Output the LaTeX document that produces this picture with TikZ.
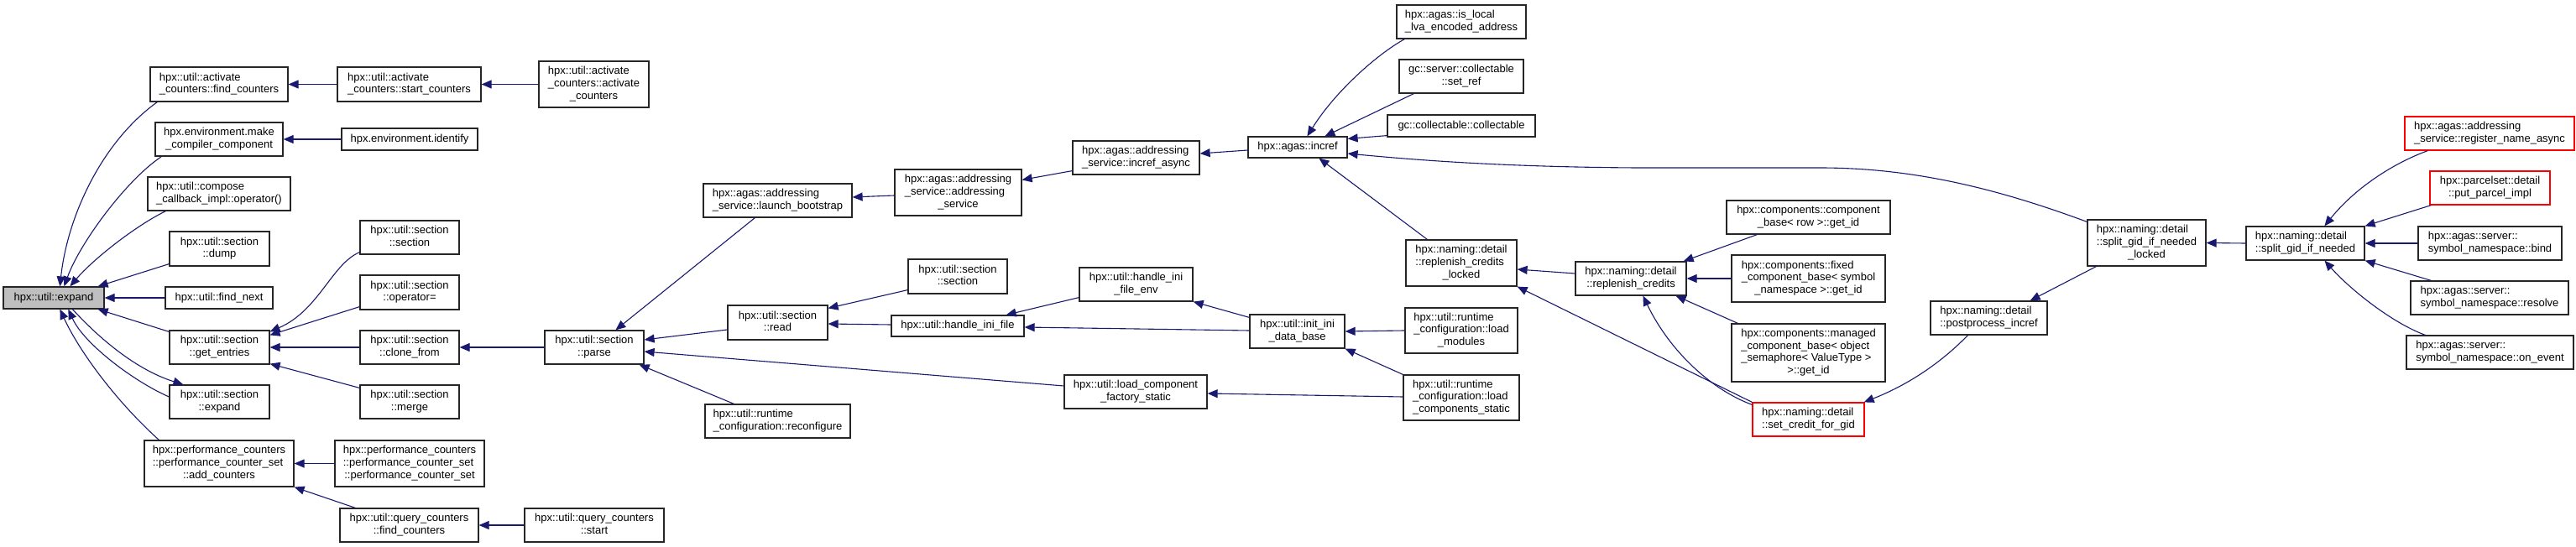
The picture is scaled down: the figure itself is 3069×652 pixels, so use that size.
\documentclass[tikz,border=0pt]{standalone}
\usepackage{fontspec}
\setmainfont{Liberation Sans}
\usetikzlibrary{arrows.meta,calc}
\definecolor{edgeblue}{RGB}{25,25,112}
\definecolor{nodegray}{RGB}{191,191,191}
\newcommand{\twol}[2]{\begin{tabular}{@{}l@{}}#1\\\multicolumn{1}{@{}c@{}}{#2}\end{tabular}}
\newcommand{\threel}[3]{\begin{tabular}{@{}l@{}}#1\\#2\\\multicolumn{1}{@{}c@{}}{#3}\end{tabular}}
\newcommand{\fourl}[4]{\begin{tabular}{@{}l@{}}#1\\#2\\#3\\\multicolumn{1}{@{}c@{}}{#4}\end{tabular}}
\newcommand{\bx}[7][]{\node[box,#1,minimum width={(#5-#3)*1pt},minimum height={(#6-#4)*1pt}] (#2) at ({(#3+#5)/2},{(#4+#6)/2}) {#7};}
\begin{document}
\begin{tikzpicture}[x=1pt,y=-1pt,
  box/.style={draw=black!85, line width=1.2pt, fill=white, inner sep=0pt, font=\fontsize{13}{14.7}\selectfont, text=black},
  e/.style={draw=edgeblue, line width=1.1pt, -{Triangle[length=12pt,width=10pt]}}]
\path[use as bounding box] (0,0) rectangle (3069,652);

\bx[fill=nodegray]{expand}{4}{342}{124}{368}{hpx::util::expand}
\bx{fc}{179}{80}{343}{121}{\twol{hpx::util::activate}{\_counters::find\_counters}}
\bx{mcc}{185}{146}{337}{186}{\twol{hpx.environment.make}{\_compiler\_component}}
\bx{comp}{176}{211}{346}{251}{\twol{hpx::util::compose}{\_callback\_impl::operator()}}
\bx{dump}{202}{276}{321}{317}{\twol{hpx::util::section}{::dump}}
\bx{fn}{197}{342}{325}{368}{hpx::util::find\_next}
\bx{ge}{202}{394}{321}{434}{\twol{hpx::util::section}{::get\_entries}}
\bx{sexp}{202}{459}{321}{499}{\twol{hpx::util::section}{::expand}}
\bx{add}{172}{525}{350}{580}{\threel{hpx::performance\_counters}{::performance\_counter\_set}{::add\_counters}}
\bx{sc}{402}{80}{573}{121}{\twol{hpx::util::activate}{\_counters::start\_counters}}
\bx{ident}{407}{153}{569}{179}{hpx.environment.identify}
\bx{ssec}{429}{263}{547}{303}{\twol{hpx::util::section}{::section}}
\bx{opeq}{429}{328}{547}{369}{\twol{hpx::util::section}{::operator=}}
\bx{clone}{429}{394}{547}{434}{\twol{hpx::util::section}{::clone\_from}}
\bx{merge}{429}{459}{547}{499}{\twol{hpx::util::section}{::merge}}
\bx{pcs}{399}{525}{577}{580}{\threel{hpx::performance\_counters}{::performance\_counter\_set}{::performance\_counter\_set}}
\bx{qf}{405}{606}{570}{646}{\twol{hpx::util::query\_counters}{::find\_counters}}
\bx{act}{642}{73}{773}{128}{\threel{hpx::util::activate}{\_counters::activate}{\_counters}}
\bx{parse}{649}{394}{767}{434}{\twol{hpx::util::section}{::parse}}
\bx{qs}{625}{606}{791}{646}{\twol{hpx::util::query\_counters}{::start}}
\bx{lb}{838}{219}{1015}{259}{\twol{hpx::agas::addressing}{\_service::launch\_bootstrap}}
\bx{read}{867}{364}{986}{405}{\twol{hpx::util::section}{::read}}
\bx{rec}{840}{482}{1013}{522}{\twol{hpx::util::runtime}{\_configuration::reconfigure}}
\bx{asvc}{1066}{202}{1217}{257}{\threel{hpx::agas::addressing}{\_service::addressing}{\_service}}
\bx{rsec}{1082}{309}{1200}{350}{\twol{hpx::util::section}{::section}}
\bx{hif}{1062}{376}{1220}{401}{hpx::util::handle\_ini\_file}
\bx{ia}{1278}{168}{1429}{208}{\twol{hpx::agas::addressing}{\_service::incref\_async}}
\bx{env}{1286}{319}{1421}{359}{\twol{hpx::util::handle\_ini}{\_file\_env}}
\bx{lcfs}{1268}{447}{1438}{487}{\twol{hpx::util::load\_component}{\_factory\_static}}
\bx{incref}{1487}{163}{1605}{188}{hpx::agas::incref}
\bx{init}{1489}{375}{1602}{415}{\twol{hpx::util::init\_ini}{\_data\_base}}
\bx{isl}{1664}{6}{1818}{46}{\twol{hpx::agas::is\_local}{\_lva\_encoded\_address}}
\bx{setref}{1667}{71}{1815}{111}{\twol{gc::server::collectable}{::set\_ref}}
\bx{gcc}{1653}{137}{1829}{163}{gc::collectable::collectable}
\bx{rcl}{1675}{286}{1807}{341}{\threel{hpx::naming::detail}{::replenish\_credits}{\_locked}}
\bx{lm}{1674}{367}{1808}{421}{\threel{hpx::util::runtime}{\_configuration::load}{\_modules}}
\bx{lc}{1672}{447}{1810}{501}{\threel{hpx::util::runtime}{\_configuration::load}{\_components\_static}}
\bx{rc}{1877}{312}{2009}{352}{\twol{hpx::naming::detail}{::replenish\_credits}}
\bx{cb}{2057}{239}{2252}{279}{\twol{hpx::components::component}{\_base< row >::get\_id}}
\bx{fixed}{2063}{304}{2246}{360}{\threel{hpx::components::fixed}{\_component\_base< symbol}{\_namespace >::get\_id}}
\bx{man}{2063}{386}{2246}{455}{\fourl{hpx::components::managed}{\_component\_base< object}{\_semaphore< ValueType >}{>::get\_id}}
\bx[draw=red]{scg}{2088}{480}{2221}{520}{\twol{hpx::naming::detail}{::set\_credit\_for\_gid}}
\bx{pp}{2300}{359}{2439}{399}{\twol{hpx::naming::detail}{::postprocess\_incref}}
\bx{sl}{2487}{262}{2628}{317}{\threel{hpx::naming::detail}{::split\_gid\_if\_needed}{\_locked}}
\bx{split}{2676}{270}{2817}{310}{\twol{hpx::naming::detail}{::split\_gid\_if\_needed}}
\bx[draw=red]{reg}{2865}{139}{3067}{179}{\twol{hpx::agas::addressing}{\_service::register\_name\_async}}
\bx[draw=red]{ppi}{2895}{204}{3038}{244}{\twol{hpx::parcelset::detail}{::put\_parcel\_impl}}
\bx{bind}{2881}{270}{3052}{310}{\twol{hpx::agas::server::}{symbol\_namespace::bind}}
\bx{res}{2872}{335}{3060}{375}{\twol{hpx::agas::server::}{symbol\_namespace::resolve}}
\bx{oe}{2867}{400}{3066}{440}{\twol{hpx::agas::server::}{symbol\_namespace::on\_event}}

\draw[e] ($(fc.south west)+(9,0)$) .. controls (120,170) and (80,260) .. ($(expand.north west)+(68,0)$);
\draw[e] ($(mcc.south west)+(8,0)$) .. controls (150,215) and (95,290) .. ($(expand.north west)+(73,0)$);
\draw[e] ($(comp.south west)+(22,0)$) .. controls (160,270) and (110,310) .. ($(expand.north west)+(80,0)$);
\draw[e] ($(dump.south west)+(0,-3)$) -- ($(expand.north east)+(-8,0)$);
\draw[e] (fn.west) -- (expand.east);
\draw[e] ($(ge.north west)+(0,2)$) -- ($(expand.south east)+(-8,0)$);
\draw[e] ($(expand.south west)+(83,0)$) .. controls (115,400) and (160,440) .. ($(sexp.north west)+(17,0)$);
\draw[e] ($(sexp.west)+(0,-6)$) .. controls (160,455) and (100,410) .. ($(expand.south west)+(78,0)$);
\draw[e] ($(add.north west)+(18,0)$) .. controls (140,480) and (95,420) .. ($(expand.south west)+(68,0)$);
\draw[e] (sc.west) -- (fc.east);
\draw[e] (act.west) -- (sc.east);
\draw[e] (ident.west) -- (mcc.east);
\draw[e] ($(ssec.south west)+(0,-3)$) .. controls (395,315) and (380,370) .. ($(ge.north east)+(0,2)$);
\draw[e] ($(opeq.south west)+(0,-4)$) -- ($(ge.north east)+(0,6)$);
\draw[e] (clone.west) -- (ge.east);
\draw[e] ($(merge.north west)+(0,4)$) -- ($(ge.south east)+(0,-1)$);
\draw[e] (pcs.west) -- (add.east);
\draw[e] ($(qf.north west)+(19,0)$) -- (add.south east);
\draw[e] (qs.west) -- (qf.east);
\draw[e] (parse.west) -- (clone.east);
\draw[e] ($(lb.south west)+(62,0)$) -- ($(parse.north west)+(85,0)$);
\draw[e] ($(read.west)+(0,8.5)$) -- ($(parse.east)+(0,-9)$);
\draw[e] ($(lcfs.west)+(0,-7)$) -- ($(parse.east)+(0,5)$);
\draw[e] ($(rec.north west)+(35,0)$) -- ($(parse.south east)+(-6,0)$);
\draw[e] ($(asvc.west)+(0,3.5)$) -- ($(lb.east)+(0,-4)$);
\draw[e] ($(ia.south west)+(0,-5)$) -- ($(asvc.north east)+(0,13)$);
\draw[e] ($(incref.west)+(0,3.5)$) -- ($(ia.east)+(0,-5)$);
\draw[e] ($(isl.south west)+(10,0)$) .. controls (1640,65) and (1590,110) .. ($(incref.north west)+(71,0)$);
\draw[e] ($(setref.south west)+(18,0)$) -- ($(incref.north west)+(92,0)$);
\draw[e] ($(gcc.south west)+(0,-2)$) -- ($(incref.north east)+(0,3)$);
\draw[e] ($(sl.north west)+(0,3)$) .. controls (2380,225) and (2280,200) .. (2168,200) -- (1950,200) .. controls (1800,199) and (1700,192) .. ($(incref.east)+(0,7.5)$);
\draw[e] ($(rcl.north west)+(26,0)$) -- ($(incref.south west)+(85,0)$);
\draw[e] ($(rsec.south west)+(0,-5)$) -- ($(read.north east)+(0,4)$);
\draw[e] ($(hif.west)+(0,-1.5)$) -- ($(read.east)+(0,1.5)$);
\draw[e] ($(env.south west)+(0,-5)$) -- ($(hif.north east)+(-22,0)$);
\draw[e] ($(init.west)+(0,-1)$) -- ($(hif.east)+(0,1.5)$);
\draw[e] ($(init.north west)+(0,4)$) -- (env.south east);
\draw[e] (lm.west) -- (init.east);
\draw[e] (lc.north west) -- (init.south east);
\draw[e] ($(lc.west)+(0,-1)$) -- ($(lcfs.east)+(0,2)$);
\draw[e] ($(rc.west)+(0,-6)$) -- ($(rcl.east)+(0,7.5)$);
\draw[e] (scg.north west) -- (rcl.south east);
\draw[e] ($(cb.south west)+(37,0)$) -- ($(rc.north east)+(-4,0)$);
\draw[e] (fixed.west) -- (rc.east);
\draw[e] ($(man.north west)+(8,0)$) -- ($(rc.south east)+(-13,0)$);
\draw[e] ($(scg.north west)+(0,3)$) .. controls (2040,465) and (1990,420) .. ($(rc.south west)+(81,0)$);
\draw[e] ($(pp.south west)+(45,0)$) .. controls (2310,435) and (2270,460) .. ($(scg.north east)+(-1,0)$);
\draw[e] ($(sl.south west)+(11,0)$) -- ($(pp.north east)+(-21,0)$);
\draw[e] (split.west) -- (sl.east);
\draw[e] ($(reg.south west)+(28,0)$) .. controls (2850,195) and (2805,225) .. ($(split.north west)+(94,0)$);
\draw[e] ($(ppi.south west)+(2,0)$) -- (split.north east);
\draw[e] (bind.west) -- (split.east);
\draw[e] ($(res.north west)+(25,0)$) -- (split.south east);
\draw[e] ($(oe.north west)+(23,0)$) .. controls (2850,385) and (2800,345) .. ($(split.south west)+(94,0)$);
\end{tikzpicture}
\end{document}
